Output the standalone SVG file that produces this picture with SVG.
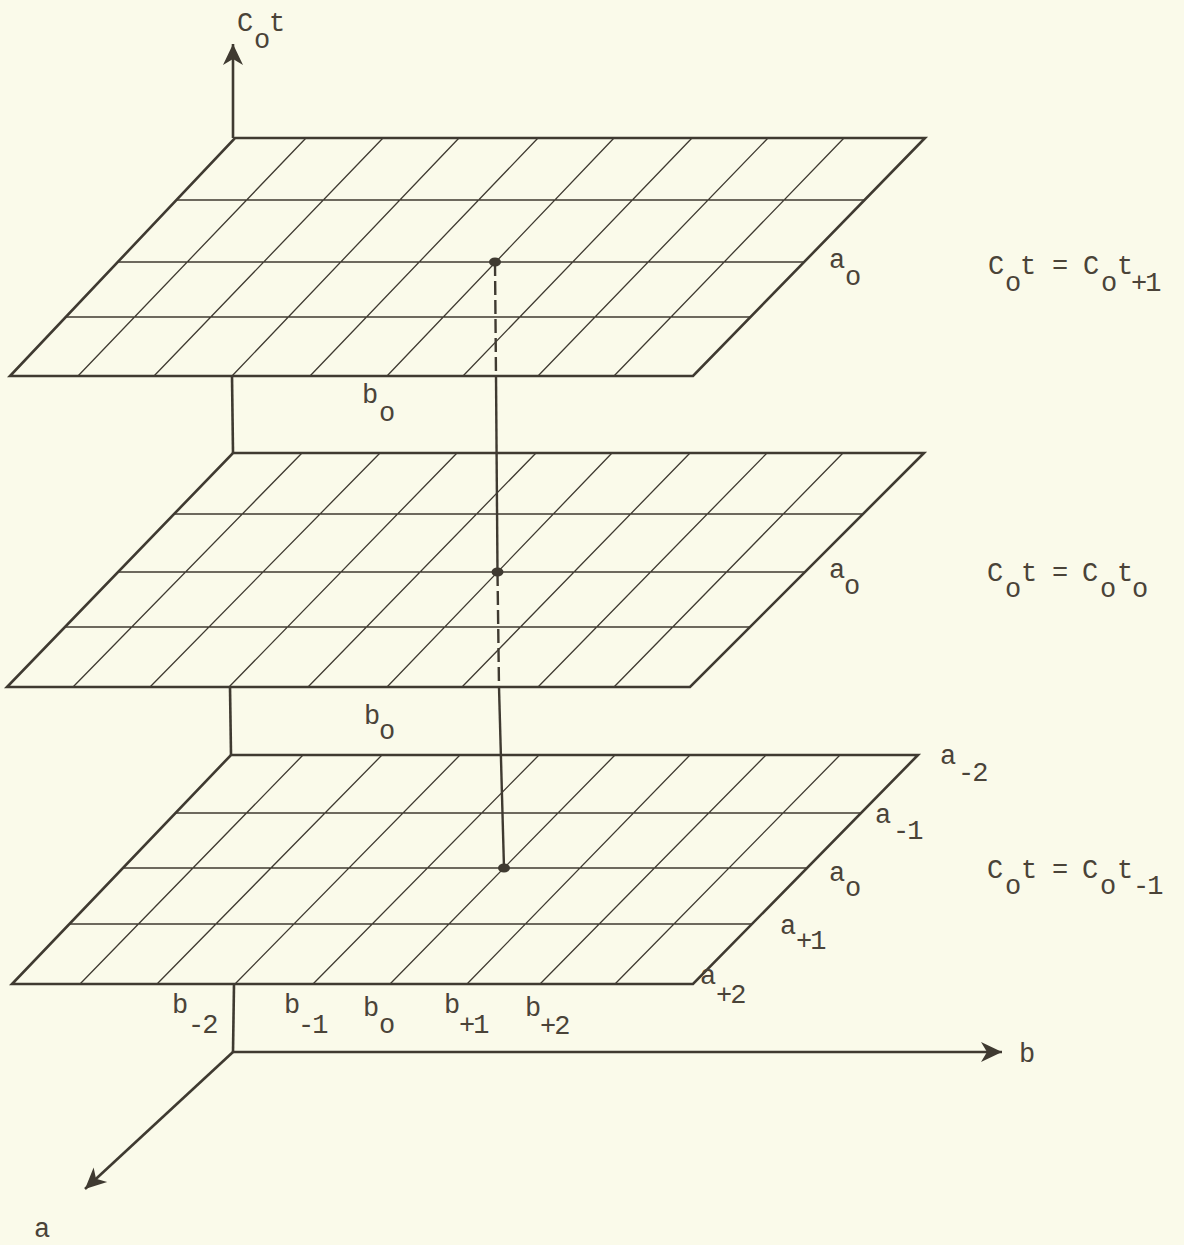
<svg xmlns="http://www.w3.org/2000/svg" width="1184" height="1245" viewBox="0 0 1184 1245">
<defs>
<style>
.bg{fill:#fafaea}
.edge{fill:none;stroke:#3f3a31;stroke-width:2.6;stroke-linejoin:miter}
.grid{stroke:#3f3a31;stroke-width:1.3;fill:none}
.axis{stroke:#3f3a31;stroke-width:2.6;fill:none}
.dash{stroke:#3f3a31;stroke-width:2.4;fill:none;stroke-dasharray:14 5}
.solid{stroke:#3f3a31;stroke-width:2.4;fill:none}
.dot{fill:#3f3a31}
text{font-family:"Liberation Mono","DejaVu Sans Mono",monospace;font-size:27px;fill:#4a4338}
.s2{letter-spacing:-2px}
</style>
<marker id="arr" markerUnits="userSpaceOnUse" markerWidth="26" markerHeight="26" refX="22" refY="12" orient="auto" viewBox="0 0 26 26">
<path d="M1,2 L22,12 L1,22 L7,12 Z" fill="#3f3a31"/>
</marker>
</defs>
<rect class="bg" x="0" y="0" width="1184" height="1245"/>

<g id="plane-top">
<path class="grid" d="M306,138 L78,376 M383,138 L154,376 M459,138 L232,376 M538,138 L310,376 M614,138 L387,376 M692,138 L463,376 M768,138 L538,376 M844,138 L614,376 M176,200 L865,200 M117,262 L805,262 M65,317 L751,317"/>
<polygon class="edge" points="235,138 925,138 693,376 10,376"/>
</g>

<g id="plane-mid">
<path class="grid" d="M302,453 L73,687 M380,453 L150,687 M457,453 L229,687 M536,453 L308,687 M612,453 L387,687 M690,453 L462,687 M767,453 L538,687 M843,453 L614,687 M174,514 L862,514 M118,572 L805,572 M65,627 L750,627"/>
<polygon class="edge" points="233,453 924,453 690,687 7,687"/>
</g>

<g id="plane-bottom">
<path class="grid" d="M303,755 L80,984 M382,755 L157,984 M460,755 L235,984 M539,755 L313,984 M615,755 L390,984 M690,755 L467,984 M766,755 L540,984 M840,755 L615,984 M175,813 L861,813 M123,868 L807,868 M69,924 L752,924"/>
<polygon class="edge" points="231,755 918,755 693,984 12,984"/>
</g>

<g id="connectors">
<line class="axis" x1="233" y1="138" x2="233" y2="44" marker-end="url(#arr)"/>
<line class="axis" x1="232" y1="376" x2="233" y2="453"/>
<line class="axis" x1="230" y1="687" x2="231" y2="755"/>
<line class="axis" x1="234" y1="984" x2="233" y2="1052"/>
<line class="axis" x1="233" y1="1052" x2="1002" y2="1052" marker-end="url(#arr)"/>
<line class="axis" x1="233" y1="1052" x2="85" y2="1189" marker-end="url(#arr)"/>
<line class="dash" x1="495" y1="262" x2="496" y2="376"/>
<line class="solid" x1="496" y1="376" x2="497.5" y2="572"/>
<line class="dash" x1="497.5" y1="572" x2="499" y2="687"/>
<line class="solid" x1="499" y1="687" x2="504" y2="868"/>
<ellipse class="dot" cx="495" cy="262" rx="6" ry="4.5"/>
<ellipse class="dot" cx="497.5" cy="572" rx="6" ry="4.5"/>
<ellipse class="dot" cx="504" cy="868" rx="6" ry="4.5"/>
</g>

<g id="labels">
<text x="237" y="31">C</text><text x="254" y="48">o</text><text x="269" y="31">t</text>

<text x="829" y="268">a</text><text x="845" y="285">o</text>
<text x="988" y="274">C</text><text x="1005" y="291">o</text><text x="1020" y="274">t</text><text x="1052" y="274">=</text><text x="1083" y="274">C</text><text x="1101" y="291">o</text><text x="1117" y="274">t</text><text class="s2" x="1131" y="291">+1</text>
<text x="362" y="403">b</text><text x="379" y="421">o</text>

<text x="829" y="578">a</text><text x="844" y="594">o</text>
<text x="987" y="581">C</text><text x="1005" y="597">o</text><text x="1021" y="581">t</text><text x="1052" y="581">=</text><text x="1082" y="581">C</text><text x="1100" y="597">o</text><text x="1117" y="581">t</text><text x="1132" y="597">o</text>
<text x="364" y="724">b</text><text x="379" y="739">o</text>

<text x="940" y="764">a</text><text class="s2" x="958" y="781">-2</text>
<text x="875" y="823">a</text><text class="s2" x="893" y="839">-1</text>
<text x="829" y="881">a</text><text x="845" y="896">o</text>
<text x="987" y="878">C</text><text x="1005" y="894">o</text><text x="1021" y="878">t</text><text x="1052" y="878">=</text><text x="1082" y="878">C</text><text x="1100" y="894">o</text><text x="1117" y="878">t</text><text class="s2" x="1133" y="894">-1</text>
<text x="780" y="934">a</text><text class="s2" x="796" y="949">+1</text>
<text x="700" y="984">a</text><text class="s2" x="716" y="1003">+2</text>

<text x="172" y="1013">b</text><text class="s2" x="188" y="1033">-2</text>
<text x="284" y="1013">b</text><text class="s2" x="298" y="1033">-1</text>
<text x="363" y="1016">b</text><text x="379" y="1033">o</text>
<text x="444" y="1013">b</text><text class="s2" x="459" y="1033">+1</text>
<text x="525" y="1016">b</text><text class="s2" x="540" y="1034">+2</text>

<text x="1019" y="1062">b</text>
<text x="34" y="1237">a</text>
</g>
</svg>
